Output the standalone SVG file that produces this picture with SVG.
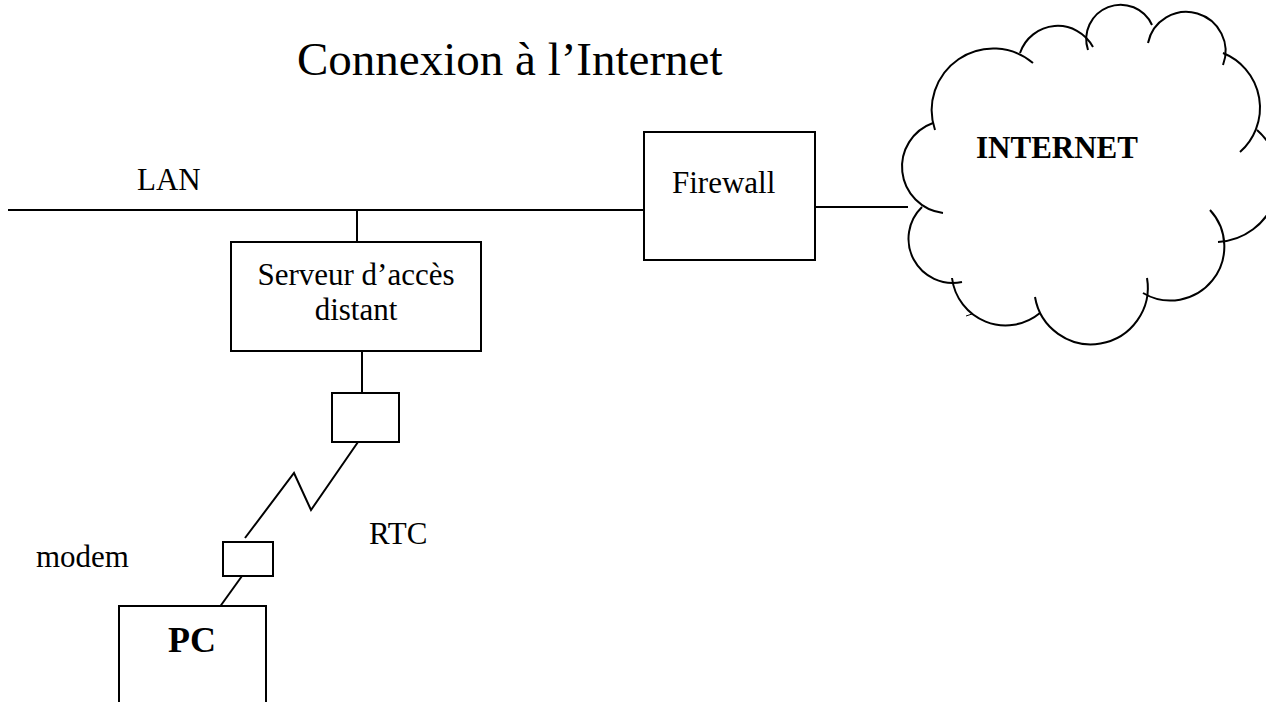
<svg xmlns="http://www.w3.org/2000/svg" width="1266" height="702" viewBox="0 0 1266 702">
  <style>
    .ln { fill: none; stroke: #000; stroke-width: 2; }
    .box { fill: #fff; stroke: #000; stroke-width: 2; }
    .t { font-family: "Liberation Serif", "Times New Roman", serif; fill: #000; font-size: 31px; }
    .b { font-weight: bold; }
  </style>
  <rect width="1266" height="702" fill="#fff"/>
  <text id="title" class="t" x="297" y="75" style="font-size:47px">Connexion à l’Internet</text>
  <text id="lan-label" class="t" x="137" y="190">LAN</text>
  <text id="rtc-label" class="t" x="369" y="544">RTC</text>
  <text id="modem-label" class="t" x="36" y="567">modem</text>

  <g id="connectors">
    <path class="ln" d="M8,210 H644"/>
    <path class="ln" d="M357,210 V242"/>
    <path class="ln" d="M815,207 H908"/>
    <path class="ln" d="M362,351 V393"/>
    <path class="ln" d="M358,442 L311,510 L294,473 L245,538"/>
    <path class="ln" d="M242,576 L219,608"/>
  </g>

  <g id="firewall">
    <rect class="box" x="644" y="132" width="171" height="128"/>
    <text class="t" x="672" y="193">Firewall</text>
  </g>

  <g id="serveur">
    <rect class="box" x="231" y="242" width="250" height="109"/>
    <text class="t" x="356" y="285" text-anchor="middle">Serveur d’accès</text>
    <text class="t" x="356" y="320" text-anchor="middle">distant</text>
  </g>

  <g id="modem-distant">
    <rect class="box" x="332" y="393" width="67" height="49"/>
  </g>

  <g id="modem">
    <rect class="box" x="223" y="542" width="50" height="34"/>
  </g>

  <g id="pc">
    <rect class="box" x="119" y="606" width="147" height="120"/>
    <text class="t b" x="168" y="652" style="font-size:36px">PC</text>
  </g>

  <g id="internet">
    <path class="ln" d="M1033,63 A61.6,61.6 0 0 0 935,130"/>
    <path class="ln" d="M933,123 A46.5,46.5 0 0 0 943,213"/>
    <path class="ln" d="M922,207 A44.2,44.2 0 0 0 962,282"/>
    <path class="ln" d="M952,278 A54,54 0 0 0 1040,313"/>
    <path class="ln" d="M1035,297 A56.8,56.8 0 0 0 1147,278"/>
    <path class="ln" d="M1143,293 A53.9,53.9 0 0 0 1210,210"/>
    <path class="ln" d="M1218,242 A64,64 0 0 0 1257,130"/>
    <path class="ln" d="M1240,152 A59,59 0 0 0 1223,53"/>
    <path class="ln" d="M1223,65 A39.2,39.2 0 1 0 1148,43"/>
    <path class="ln" d="M1152,25 A34.4,34.4 0 0 0 1088,50"/>
    <path class="ln" d="M1093,47 A39.9,39.9 0 0 0 1020,53"/>
    <path d="M966,316 L972,314" stroke="#000" stroke-width="1" fill="none"/>
    <text class="t b" x="976" y="158">INTERNET</text>
  </g>
</svg>
